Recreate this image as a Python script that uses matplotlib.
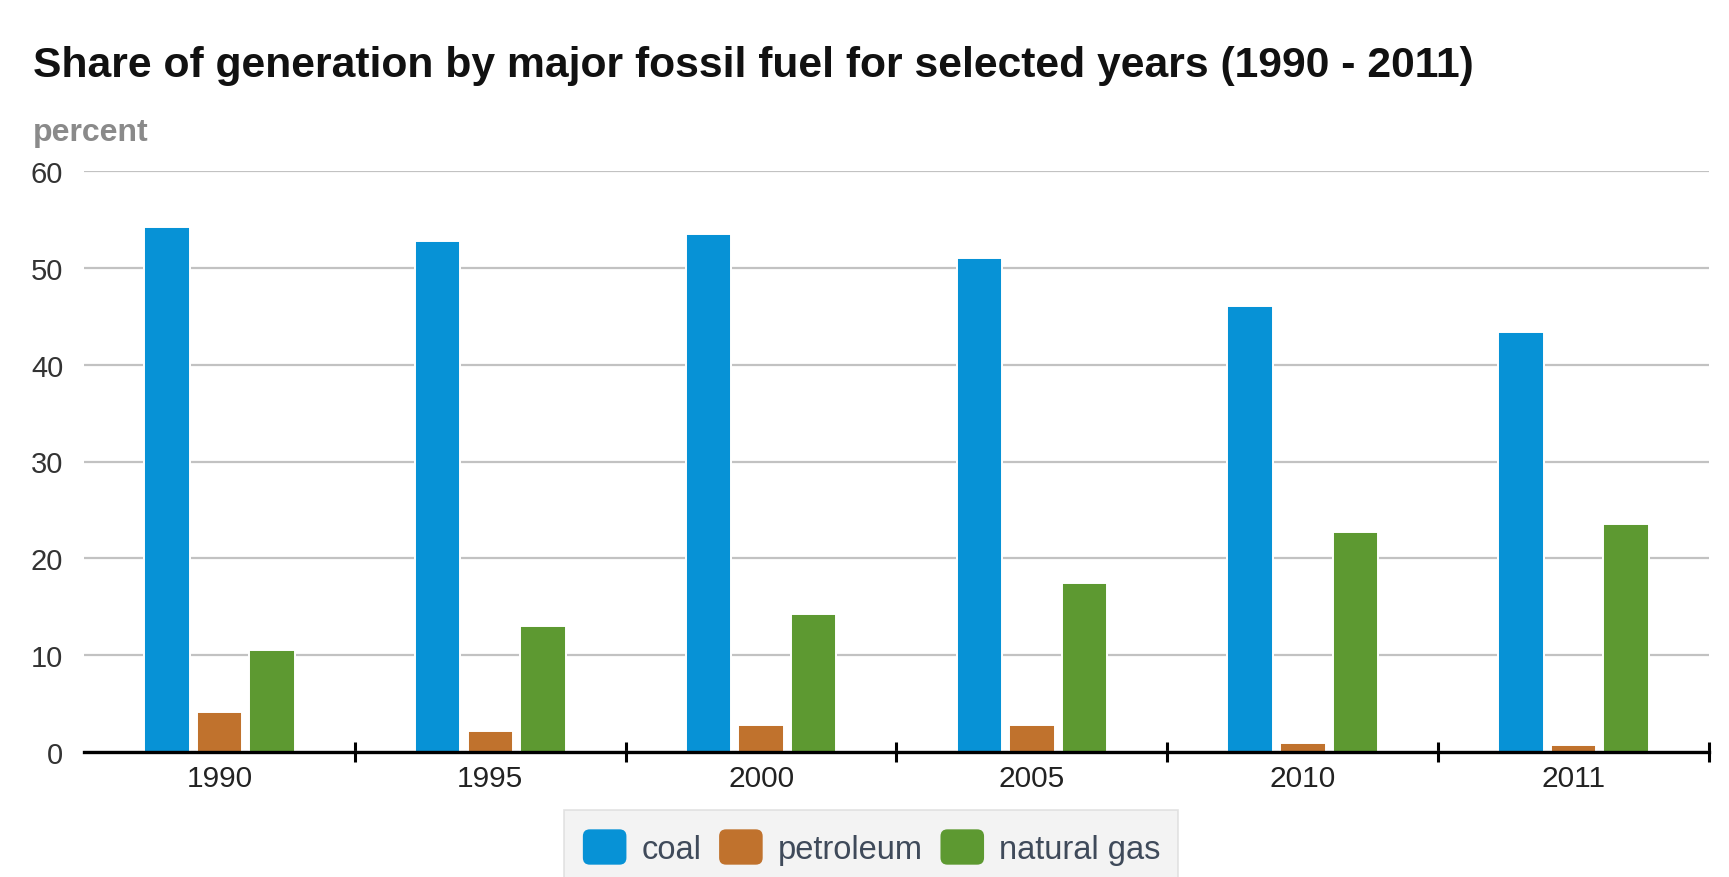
import matplotlib
matplotlib.use("Agg")
import matplotlib.pyplot as plt
import numpy as np
from matplotlib.patches import FancyBboxPatch
from matplotlib.legend_handler import HandlerPatch
from matplotlib.patches import Patch

years = ["1990", "1995", "2000", "2005", "2010", "2011"]
coal = [54.2, 52.8, 53.5, 51.0, 46.1, 43.4]
petroleum = [4.1, 2.2, 2.8, 2.8, 0.9, 0.7]
natural_gas = [10.5, 13.0, 14.2, 17.5, 22.7, 23.5]
series_names = ["coal", "petroleum", "natural gas"]
colors = ["#0792d6", "#c0722d", "#5d9931"]
yticks = [0, 10, 20, 30, 40, 50, 60]
title = "Share of generation by major fossil fuel for selected years (1990 - 2011)"

plt.rcParams['font.family'] = ['Liberation Sans', 'DejaVu Sans']

W, H, DPI = 1729, 878, 100
fig = plt.figure(figsize=(W / DPI, H / DPI), dpi=DPI)
ax = fig.add_axes([84 / W, 125 / H, (1709 - 84) / W, (753 - 172) / H])

x = np.arange(len(years))
offs = [-0.194, 0.0, 0.194]
bw = 0.168
for vals, off, c, name in zip([coal, petroleum, natural_gas], offs, colors, series_names):
    ax.bar(x + off, vals, width=bw, color=c, edgecolor='white', linewidth=1.4,
           label=name, zorder=3)

ax.set_xlim(-0.5, len(years) - 0.5)
ax.set_ylim(0, 60)
ax.set_yticks(yticks)
ax.set_yticklabels([str(t) for t in yticks], fontsize=21, color='#333333')
ax.tick_params(axis='y', length=0, pad=15)
ax.yaxis.grid(True, color='#c2c2c2', linewidth=1.6, zorder=0)
ax.set_axisbelow(True)

# category boundaries as major ticks, years as minor labels
ax.set_xticks(np.arange(len(years)) + 0.5)
ax.set_xticklabels([])
ax.tick_params(axis='x', which='major', direction='inout', length=14, width=2.2, color='black')
ax.set_xticks(x, minor=True)
ax.set_xticklabels(years, minor=True, fontsize=21.5, color='#222222')
ax.tick_params(axis='x', which='minor', length=0, pad=9)

for s in ['top', 'right', 'left']:
    ax.spines[s].set_visible(False)
ax.spines['bottom'].set_linewidth(2.4)
ax.spines['bottom'].set_color('black')
ax.spines['bottom'].set_zorder(5)

fig.text(33 / W, 1 - 66 / H, title, fontsize=30.7, fontweight='bold', color='#111111',
         ha='left', va='center')
fig.text(33 / W, 1 - 133 / H, "percent", fontsize=23, fontweight='bold', color='#8a8a8a',
         ha='left', va='center')


class RoundHandler(HandlerPatch):
    def create_artists(self, legend, orig_handle, xdescent, ydescent, width, height,
                       fontsize, trans):
        p = FancyBboxPatch((-xdescent + 1, -ydescent + 1), width - 2, height - 2,
                           boxstyle="round,pad=0,rounding_size=5",
                           facecolor=orig_handle.get_facecolor(), edgecolor='none',
                           transform=trans)
        return [p]


handles = [Patch(facecolor=c, label=n) for c, n in zip(colors, series_names)]
leg = fig.legend(handles=handles, loc='center', bbox_to_anchor=(871 / W, 1 - 848 / H),
                 ncol=3, fontsize=23.5, frameon=True, fancybox=False,
                 handlelength=1.42, handleheight=1.42, handletextpad=0.42,
                 columnspacing=0.5, borderpad=0.55,
                 handler_map={Patch: RoundHandler()})
leg.get_frame().set_facecolor('#f1f1f1')
leg.get_frame().set_edgecolor('#dcdcdc')
leg.get_frame().set_linewidth(1.2)
for t in leg.get_texts():
    t.set_color('#3f4a5a')

fig.savefig("out.png", dpi=DPI, facecolor='white')
